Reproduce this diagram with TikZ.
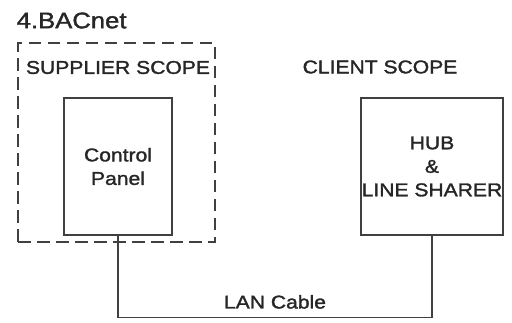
\documentclass[tikz,border=0pt]{standalone}
\usepackage{fontspec}
\setmainfont[FakeStretch=1.14,FakeBold=1.6]{Liberation Sans}

\begin{document}
\begin{tikzpicture}[x=1pt,y=-1pt,
	line width=1.4pt,
	every node/.style={font=\fontsize{18.5}{23.5}\selectfont,text=black!85},
	unitbox/.style={draw=black!75,align=center,inner sep=0pt},
	scopebox/.style={draw=black!75,dash pattern=on 12.5pt off 6.5pt,inner sep=0pt},
	cable/.style={draw=black!75}]
	\useasboundingbox (0,0) rectangle (512,322);

	\node[anchor=west,font=\fontsize{22.5}{26}\selectfont] (title) at (12.7,20.5) {4.BACnet};

	% supplier side
	\node[scopebox,minimum width=197pt,minimum height=199pt] (supplier) at (116.5,142.5) {};
	\node (suplabel) at (118,67.5) {SUPPLIER SCOPE};
	\node[unitbox,minimum width=108pt,minimum height=137pt] (cp) at (118,166.5) {Control\\Panel};

	% client side
	\node (clilabel) at (380,67) {CLIENT SCOPE};
	\node[unitbox,minimum width=142pt,minimum height=137pt] (hub) at (432,166.5) {HUB\\\&\\LINE SHARER};

	\draw[cable] (cp.south) -- ++(0,82) -| node[pos=0.25,above=5pt] {LAN Cable} (hub.south);
\end{tikzpicture}
\end{document}
